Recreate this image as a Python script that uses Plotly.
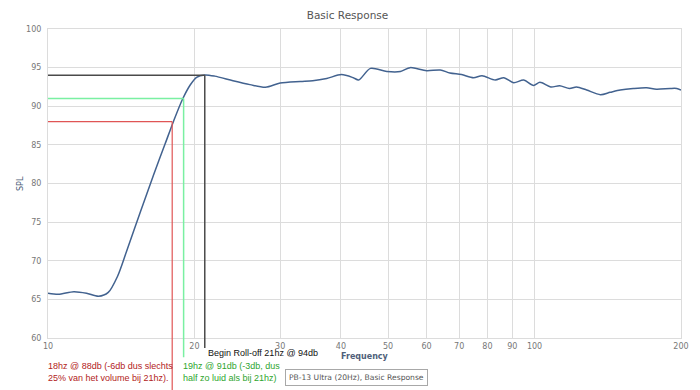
import plotly.graph_objects as go
import math

# ---- data ----
freq = [10, 10.5, 11.3, 12.0, 12.7, 13.3, 13.9, 14.5, 15.5, 16.5, 17.4, 18.1, 18.9, 19.6,
        20.2, 21.0, 22.0, 24.0, 26.0, 28.0, 30.0, 33.0, 35.0, 37.4, 40.1, 42.4, 43.5, 46.0,
        49.7, 53.0, 55.5, 60.0, 64.0, 67.0, 70.8, 74.9, 78.0, 83.0, 86.5, 90.6, 95.0, 99.5,
        102.6, 108.0, 112.6, 118.0, 122.0, 128.0, 136.6, 143.0, 150.0, 159.5, 170.0, 178.0,
        190.0, 196.0, 200.0]
spl = [65.8, 65.65, 66.0, 65.8, 65.4, 65.9, 68.0, 71.2, 76.4, 81.2, 85.1, 88.0, 90.9, 92.75,
       93.75, 94.05, 93.9, 93.3, 92.8, 92.45, 93.0, 93.2, 93.3, 93.6, 94.1, 93.7, 93.4, 94.9,
       94.5, 94.5, 95.0, 94.6, 94.7, 94.3, 94.1, 93.7, 93.95, 93.4, 93.7, 93.05, 93.4, 92.7,
       93.1, 92.5, 92.65, 92.3, 92.5, 92.1, 91.5, 91.8, 92.1, 92.3, 92.4, 92.2,
       92.3, 92.3, 92.1]

x_ticks = [10, 20, 30, 40, 50, 60, 70, 80, 90, 100, 200]
y_ticks = [60, 65, 70, 75, 80, 85, 90, 95, 100]
x_range = [10, 200]
y_range = [60, 100]

marker_freq = [21, 19, 18]
marker_db = [94, 91, 88]
marker_color = ["#4a4a4a", "#7af0a2", "#e05555"]
marker_width = [1.5, 1.5, 1.2]
marker_bottom = [-0.032, -0.062, -0.2]
marker_text = ["Begin Roll-off 21hz @ 94db",
               "19hz @ 91db (-3db, dus<br>half zo luid als bij 21hz)",
               "18hz @ 88db (-6db dus slechts<br>25% van het volume bij 21hz)."]
text_color = ["#111111", "#2ea52e", "#b22222"]

series_name = "PB-13 Ultra (20Hz), Basic Response"

fig = go.Figure()
fig.add_trace(go.Scatter(x=freq, y=spl, mode="lines", name=series_name,
                         line=dict(color="#42628f", width=1.5, shape="spline", smoothing=0.8),
                         showlegend=False, hoverinfo="skip"))

grid = "#dcdcdc"
shapes = []
annotations = []
for f, db, c, w, bot in zip(marker_freq, marker_db, marker_color, marker_width, marker_bottom):
    shapes.append(dict(type="line", xref="x", yref="y", x0=x_range[0], x1=f, y0=db, y1=db,
                       line=dict(color=c, width=w), layer="above"))
    yp = (db - y_range[0]) / (y_range[1] - y_range[0])
    shapes.append(dict(type="line", xref="x", yref="paper", x0=f, x1=f, y0=yp, y1=bot,
                       line=dict(color=c, width=w), layer="above"))

afont = "Liberation Sans, Arial, sans-serif"
annotations.append(dict(text=marker_text[0], xref="x", yref="paper", x=math.log10(marker_freq[0]),
                        y=0, xanchor="left", yanchor="middle", xshift=1, yshift=-15,
                        showarrow=False, align="left",
                        font=dict(family=afont, size=9, color=text_color[0])))
annotations.append(dict(text=marker_text[1], xref="x", yref="paper", x=math.log10(marker_freq[1]),
                        y=0, xanchor="left", yanchor="middle", xshift=-3, yshift=-34,
                        showarrow=False, align="left",
                        font=dict(family=afont, size=9, color=text_color[1])))
annotations.append(dict(text=marker_text[2], xref="x", yref="paper", x=math.log10(x_range[0]),
                        y=0, xanchor="left", yanchor="middle", xshift=-2, yshift=-34,
                        showarrow=False, align="left",
                        font=dict(family=afont, size=9, color=text_color[2])))

axfont = "DejaVu Sans, Verdana, sans-serif"
annotations.append(dict(text="<b>Frequency</b>", xref="paper", yref="paper", x=0.5, y=0,
                        yshift=-18, yanchor="middle", showarrow=False,
                        font=dict(family=axfont, size=8, color="#4f5f7a")))
annotations.append(dict(text="SPL", xref="paper", yref="paper", x=0, y=0.5, xshift=-34,
                        textangle=-90, showarrow=False,
                        font=dict(family=axfont, size=8, color="#4f5f7a")))
annotations.append(dict(text=series_name, xref="paper", yref="paper", x=0.4866, y=0,
                        yshift=-39, yanchor="middle", showarrow=False,
                        bordercolor="#a8a8a8", borderwidth=1, borderpad=3, bgcolor="white",
                        font=dict(family=axfont, size=7.6, color="#555555")))

fig.update_layout(
    width=700, height=390,
    margin=dict(l=40, r=27, t=21, b=60),
    paper_bgcolor="white", plot_bgcolor="white",
    title=dict(text="Basic Response", x=0.485, xref="container", y=1 - 7 / 390,
               yanchor="middle", xanchor="center",
               font=dict(family=axfont, size=10.5, color="#555555")),
    xaxis=dict(type="log", range=[math.log10(x_range[0]), math.log10(x_range[1])],
               tickvals=x_ticks, ticktext=[str(t) for t in x_ticks],
               showgrid=True, gridcolor=grid, gridwidth=1,
               showline=True, linecolor=grid, mirror=True, zeroline=False,
               ticks="", tickfont=dict(family=axfont, size=8, color="#777777")),
    yaxis=dict(range=y_range, tickvals=y_ticks, showgrid=True, gridcolor=grid, gridwidth=1,
               showline=True, linecolor=grid, mirror=True, zeroline=False,
               ticks="", ticklabelstandoff=4,
               tickfont=dict(family=axfont, size=8, color="#777777")),
    shapes=shapes, annotations=annotations, showlegend=False,
)

fig.write_html("out.html")
